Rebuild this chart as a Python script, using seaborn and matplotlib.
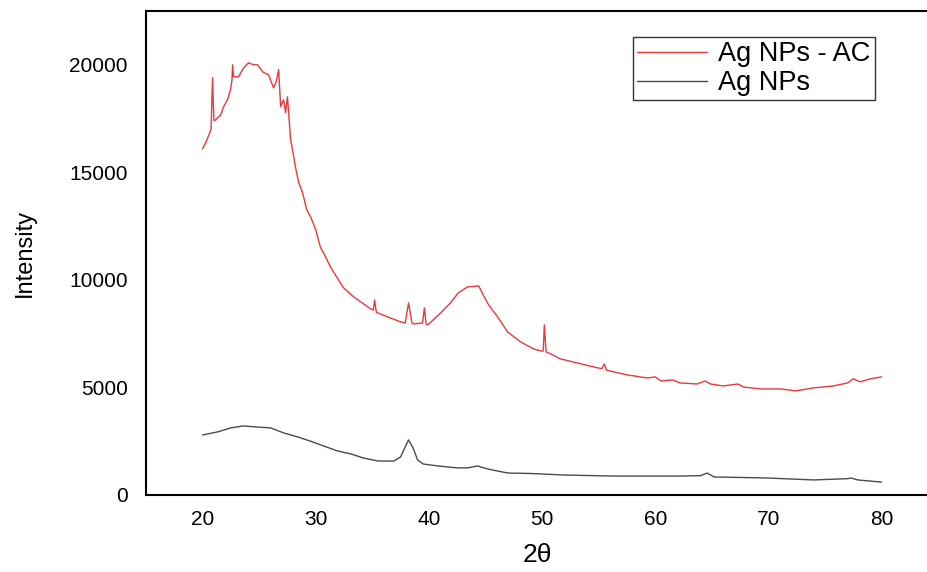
import pandas as pd
import matplotlib
matplotlib.use('Agg')
import matplotlib.pyplot as plt
import seaborn as sns

# XRD patterns (2theta, intensity)
ac_two_theta = [20.0, 20.3, 20.6, 20.75, 20.88, 21.0, 21.15, 21.6, 21.86, 22.2, 22.47, 22.6, 22.65, 22.74,
                23.18, 23.62, 24.06, 24.5, 24.86, 25.3, 25.83, 26.27, 26.5, 26.72, 26.9, 27.16, 27.33, 27.5,
                27.78, 27.95, 28.2, 28.5, 28.84, 29.2, 29.55, 30.0, 30.4, 30.87, 31.3, 31.9, 32.46, 33.35,
                34.1, 34.85, 35.1, 35.2, 35.35, 35.46, 36.35, 37.5, 37.9, 38.2, 38.5, 38.65, 39.44, 39.6,
                39.75, 39.9, 40.85, 41.9, 42.6, 43.4, 44.4, 44.8, 45.27, 46.07, 46.95, 48.1, 49.25, 50.0,
                50.1, 50.2, 50.35, 50.6, 51.6, 53.1, 54.9, 55.3, 55.5, 55.7, 57.55, 59.3, 60.0, 60.5, 61.5,
                62.2, 63.7, 64.4, 64.9, 66.0, 67.3, 67.8, 69.3, 71.1, 72.4, 74.0, 75.75, 77.0, 77.5, 78.1,
                79.0, 80.0]
ac_intensity = [16100, 16400, 16800, 17000, 19400, 17400, 17440, 17670, 18050, 18370, 18840, 19300, 20000, 19440,
                19440, 19860, 20090, 20000, 20000, 19670, 19530, 18930, 19200, 19770, 18050, 18370, 17770, 18510,
                16510, 16050, 15260, 14510, 14050, 13260, 12930, 12330, 11530, 11070, 10600, 10090, 9630, 9210,
                8930, 8650, 8600, 9070, 8500, 8470, 8280, 8050, 8000, 8930, 8000, 7950, 8000, 8700,
                7950, 7910, 8370, 8930, 9400, 9670, 9720, 9300, 8840, 8280, 7580, 7120, 6790, 6680,
                6700, 7910, 6650, 6600, 6330, 6140, 5910, 5880, 6090, 5800, 5580, 5440, 5490, 5300, 5350,
                5210, 5160, 5300, 5160, 5070, 5160, 5020, 4930, 4930, 4840, 4980, 5070, 5210, 5400, 5260,
                5400, 5490]

np_two_theta = [20.0, 21.3, 22.5, 23.6, 24.85, 26.0, 27.2, 28.4, 29.5, 30.7, 31.9, 33.1, 34.2, 35.5, 36.9,
                37.5, 37.9, 38.2, 38.6, 39.0, 39.5, 40.8, 42.5, 43.4, 44.3, 45.2, 46.0, 47.0, 49.0, 51.9,
                56.3, 62.2, 64.0, 64.6, 65.2, 69.9, 74.0, 77.0, 77.3, 77.9, 80.0]
np_intensity = [2790, 2930, 3120, 3210, 3160, 3120, 2880, 2700, 2510, 2280, 2050, 1910, 1720, 1580, 1580,
                1770, 2230, 2560, 2190, 1630, 1440, 1350, 1260, 1260, 1350, 1210, 1120, 1020, 1000, 930,
                880, 880, 900, 1020, 840, 790, 700, 760, 790, 700, 600]

series_names = ['Ag NPs - AC', 'Ag NPs']
series_colors = ['#e8383d', '#4a4a4a']
x_ticks = [20, 30, 40, 50, 60, 70, 80]
y_ticks = [0, 5000, 10000, 15000, 20000]

df = pd.concat([
    pd.DataFrame({'two_theta': ac_two_theta, 'intensity': ac_intensity, 'sample': series_names[0]}),
    pd.DataFrame({'two_theta': np_two_theta, 'intensity': np_intensity, 'sample': series_names[1]}),
])

sns.set_theme(style='white')
plt.rcParams['font.family'] = ['Liberation Sans', 'DejaVu Sans']
plt.rcParams['text.color'] = 'black'
plt.rcParams['axes.labelcolor'] = 'black'

fig = plt.figure(figsize=(9.28, 5.72), dpi=100)
ax = fig.add_axes([146 / 928, 77 / 572, 782 / 928, 484 / 572])

sns.lineplot(data=df, x='two_theta', y='intensity', hue='sample', palette=series_colors,
             estimator=None, sort=False, linewidth=1.0, ax=ax)

ax.set_xlim(15, 15 + 782 / 11.317)
ax.set_ylim(0, 22500)
ax.set_xticks(x_ticks)
ax.set_yticks(y_ticks)
ax.tick_params(axis='both', length=0, labelsize=15, colors='black')
ax.tick_params(axis='y', pad=13)
ax.tick_params(axis='x', pad=11)

# the original is cut off on the right, so no right frame line
ax.spines['right'].set_visible(False)
for side in ['left', 'bottom', 'top']:
    ax.spines[side].set_color('black')
    ax.spines[side].set_linewidth(1.5)

ax.set_xlabel('2θ', fontsize=19, labelpad=10)
ax.set_ylabel('Intensity', fontsize=17, labelpad=24)

leg = ax.legend(loc='upper left', bbox_to_anchor=(633 / 928, 1 - 37 / 572), bbox_transform=fig.transFigure,
                fontsize=19.5, frameon=True, fancybox=False, handlelength=2.6, handletextpad=0.4,
                borderpad=0.15, labelspacing=0.12, borderaxespad=0)
leg.get_frame().set_edgecolor('black')
leg.get_frame().set_linewidth(1.0)
for txt in leg.get_texts():
    txt.set_color('black')

fig.savefig('out.png', dpi=100)
